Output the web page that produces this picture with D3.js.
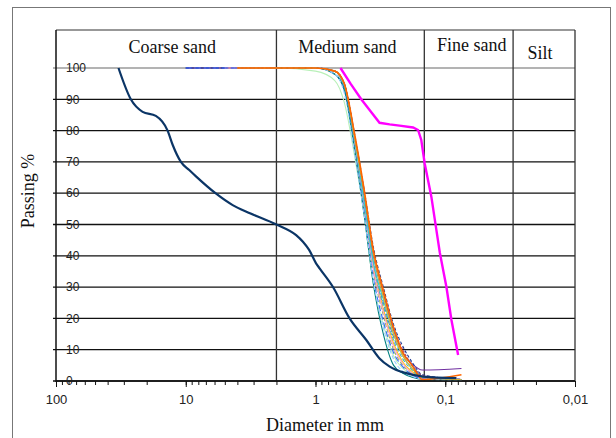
<!doctype html>
<html>
<head>
<meta charset="utf-8">
<style>
  body { margin: 0; background: #fff; }
  svg { display: block; }
  .serif { font-family: "Liberation Serif", "Times New Roman", serif; font-size: 18px; fill: #111; }
  .num { font-family: "Liberation Sans", Arial, sans-serif; font-size: 12px; fill: #222; }
</style>
<script src="https://d3js.org/d3.v7.min.js"></script>
</head>
<body>
<svg width="616" height="438"></svg>
<script>
// soil classes along the top band (boundaries in mm, from coarse to fine)
var classNames = ["Coarse sand", "Medium sand", "Fine sand", "Silt"];
var classBounds = [100, 2, 0.145, 0.03, 0.01];

var xTickValues = [100, 10, 1, 0.1, 0.01];
var xTickLabels = ["100", "10", "1", "0,1", "0,01"];
var yTickValues = [0, 10, 20, 30, 40, 50, 60, 70, 80, 90, 100];

// coarse, well graded sample (dark blue)
var coarseD = [33, 26.5, 21.5, 17, 13.8, 12.6, 10.9, 9.4, 8.3, 5.9, 4.35, 3.2, 2.0, 1.41, 1.25, 1.12, 0.99, 0.93, 0.735, 0.546, 0.406, 0.321, 0.268, 0.2, 0.148, 0.082];
var coarseP = [100, 90, 86, 84.7, 80, 75.4, 70, 67.4, 65.3, 60, 56.2, 53.6, 50, 46.6, 44.5, 41.9, 37.6, 36, 30.1, 20, 13.1, 7.2, 4.6, 2.5, 1.4, 0.9];

// fine sample (magenta)
var fineD = [0.642, 0.537, 0.444, 0.383, 0.321, 0.268, 0.225, 0.177, 0.162, 0.153, 0.144, 0.128, 0.117, 0.110, 0.098, 0.0896, 0.0796];
var fineP = [100, 95, 90, 86.6, 82.5, 82, 81.6, 81, 80.2, 77, 69.5, 58.9, 48.2, 40.9, 30.1, 19.5, 8.3];

// medium sand samples, all on the same sieves
var sieves = [10, 5, 4, 2, 1, 0.71, 0.6, 0.5, 0.425, 0.355, 0.3, 0.25, 0.212, 0.18, 0.15, 0.075];
var s01 = [100, 100, 100, 100, 100, 99, 94, 77, 59, 37, 25, 14, 8, 4, 1.2, 0.4];
var s02 = [100, 100, 100, 100, 100, 99, 95, 78, 60, 39, 27, 16, 9, 5, 1.5, 0.5];
var s03 = [null, 100, 100, 100, 100, 99, 94, 76, 57, 36, 23, 12, 6, 3, 1, 0.3];
var s04 = [null, null, 100, 100, 100, 98, 93, 75, 56, 34, 21, 10, 5, 2.5, 0.8, 0.3];
var s05 = [100, 100, 100, 100, 100, 99, 95, 78, 60, 40, 28, 17, 9, 5.5, 3.5, 4];
var s06 = [null, 100, 100, 100, 100, 99, 94, 77, 58, 36, 24, 13, 7, 3.5, 1, 0.3];
var s07 = [null, null, 100, 100, 99, 96, 89, 72, 54, 30, 18, 8, 4, 2, 0.8, 0.3];
var s08 = [100, 100, 100, 100, 100, 99, 95, 79, 62, 42, 30, 18, 11, 6, 2, 0.5];
var s09 = [null, 100, 100, 100, 100, 99, 94, 76, 57, 35, 22, 11, 5.5, 2.5, 0.8, 0.3];
var s10 = [null, null, 100, 100, 100, 99, 94, 77, 58, 37, 26, 15, 8, 4, 1.2, 0.4];
var s11 = [100, 100, 100, 100, 100, 98, 93, 74, 55, 32, 19, 9, 4.5, 2, 0.7, 0.3];
var s12 = [null, null, 100, 100, 100, 99, 95, 78, 61, 41, 29, 17, 10, 5, 1.8, 0.5];
var s13 = [null, null, null, 100, 100, 98, 93, 74, 54, 30, 15, 5, 2.5, 1.2, 0.5, 0.2];
var s14 = [null, null, null, 100, 100, 98, 92, 73, 54, 31, 17, 7, 3, 1.5, 0.6, 0.2];
var s15 = [null, null, 100, 100, 100, 99, 95, 78, 61, 40, 27, 15, 8, 4, 1.3, 0.4];
var s16 = [null, null, 100, 100, 100, 99, 95, 79, 62, 41, 29, 17, 9, 5, 0.5, 2];
var bundle = [s01, s02, s03, s04, s05, s06, s07, s08, s09, s10, s11, s12, s13, s14, s15, s16];
var bundleColors = ["#4f81bd", "#6b7fb5", "#ffcc00", "#9bbb59", "#7030a0", "#4bacc6", "#b8f0b8", "#1f3a93",
                    "#ff99cc", "#33cccc", "#3366ff", "#993366", "#008080", "#99ccff", "#e6b422", "#ff6600"];
var bundleDash = ["5,2", null, null, "4,2", null, "4,2", null, "3,2",
                  null, null, "6,3", "2,2", null, "4,2", null, null];

var svg = d3.select("svg");
var plotL = 56, plotR = 575, plotT = 68, plotB = 381, headTop = 30;

var x = d3.scaleLog().domain([100, 0.01]).range([plotL, plotR]);
var y = d3.scaleLinear().domain([0, 100]).range([plotB, plotT]);

// outer frame
svg.append("rect")
   .attr("x", 12.5).attr("y", 7.5)
   .attr("width", 598).attr("height", 450)
   .attr("fill", "none").attr("stroke", "#777");

// horizontal grid
svg.append("g").selectAll("line")
   .data(yTickValues)
   .enter().append("line")
   .attr("x1", plotL - 3).attr("x2", plotR)
   .attr("y1", function(d) { return y(d); })
   .attr("y2", function(d) { return y(d); })
   .attr("stroke", function(d) { return d === 100 ? "#9a9a9a" : "#111"; })
   .attr("stroke-width", 1.3);

// header top line
svg.append("line")
   .attr("x1", plotL).attr("x2", plotR)
   .attr("y1", headTop).attr("y2", headTop)
   .attr("stroke", "#333").attr("stroke-width", 1.2);

// class dividers + right border
svg.append("g").selectAll("line")
   .data(classBounds.slice(1))
   .enter().append("line")
   .attr("x1", function(d) { return x(d); })
   .attr("x2", function(d) { return x(d); })
   .attr("y1", headTop).attr("y2", plotB)
   .attr("stroke", "#333").attr("stroke-width", 1.3);

// class names
var nameDx = [6, -3, 3, -4], nameDy = [0, 0, -2, 6];
svg.append("g").selectAll("text")
   .data(classNames)
   .enter().append("text")
   .attr("class", "serif")
   .attr("text-anchor", "middle")
   .attr("dominant-baseline", "central")
   .attr("x", function(d, i) { return (x(classBounds[i]) + x(classBounds[i + 1])) / 2 + nameDx[i]; })
   .attr("y", function(d, i) { return 47 + nameDy[i]; })
   .text(function(d) { return d; });

// bottom axis: minor + major ticks
var xAxisG = svg.append("g").attr("transform", "translate(0," + plotB + ")");
xAxisG.append("g")
   .call(d3.axisBottom(x).tickValues(x.ticks()).tickSize(4).tickFormat(""))
   .call(function(g) { g.select(".domain").remove(); })
   .selectAll("line").attr("stroke", "#111");
xAxisG.append("g")
   .call(d3.axisBottom(x).tickValues(xTickValues).tickSize(6)
         .tickFormat(function(d, i) { return xTickLabels[i]; }))
   .call(function(g) { g.select(".domain").remove(); })
   .call(function(g) {
       g.selectAll("line").attr("stroke", "#111");
       g.selectAll("text").attr("class", "num").attr("y", 19).attr("dy", "0.32em").style("font-size", "13px");
   });
xAxisG.selectAll("g").attr("font-family", null).attr("font-size", null);

// lines
var line = d3.line()
    .defined(function(d) { return d[1] !== null; })
    .x(function(d) { return x(d[0]); })
    .y(function(d) { return y(d[1]); })
    .curve(d3.curveMonotoneX);

bundle.forEach(function(s, i) {
    svg.append("path")
       .datum(sieves.map(function(d, j) { return [d, s[j]]; }))
       .attr("fill", "none")
       .attr("stroke", bundleColors[i])
       .attr("stroke-width", i === 15 ? 1.6 : 1.1)
       .attr("stroke-dasharray", bundleDash[i])
       .attr("d", line);
});

svg.append("path")
   .datum(coarseD.map(function(d, j) { return [d, coarseP[j]]; }))
   .attr("fill", "none")
   .attr("stroke", "#0b3566")
   .attr("stroke-width", 2.2)
   .attr("d", line);

svg.append("path")
   .datum(fineD.map(function(d, j) { return [d, fineP[j]]; }))
   .attr("fill", "none")
   .attr("stroke", "#ff00ff")
   .attr("stroke-width", 2.4)
   .attr("d", line.curve(d3.curveLinear));

// axis lines
svg.append("line")
   .attr("x1", plotL).attr("x2", plotL).attr("y1", headTop).attr("y2", plotB + 1)
   .attr("stroke", "#111").attr("stroke-width", 1.5);
svg.append("line")
   .attr("x1", plotL).attr("x2", plotR).attr("y1", plotB).attr("y2", plotB)
   .attr("stroke", "#111").attr("stroke-width", 1.5);

// y labels sit inside the plot, on the grid lines
svg.append("g").selectAll("text")
   .data(yTickValues)
   .enter().append("text")
   .attr("class", "num")
   .attr("x", plotL + 10)
   .attr("y", function(d) { return y(d); })
   .attr("dy", "0.35em")
   .text(function(d) { return d; });

// axis titles
svg.append("text")
   .attr("class", "serif")
   .attr("text-anchor", "middle")
   .attr("x", 325).attr("y", 425)
   .attr("dy", "0.35em")
   .text("Diameter in mm");

svg.append("text")
   .attr("class", "serif")
   .attr("text-anchor", "middle")
   .attr("transform", "translate(28,191) rotate(-90)")
   .attr("dy", "0.35em")
   .text("Passing %");
</script>
</body>
</html>
